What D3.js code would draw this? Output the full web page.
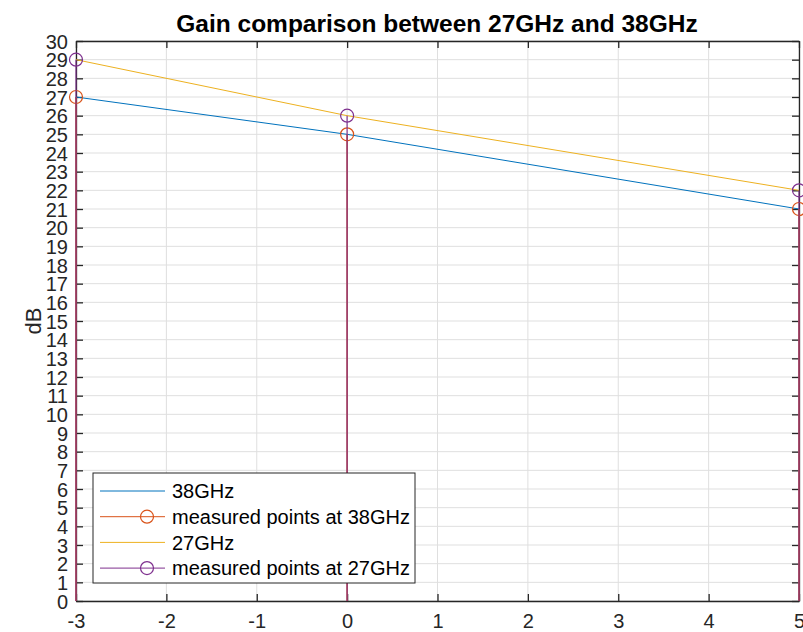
<!DOCTYPE html>
<html><head><meta charset="utf-8">
<script src="https://cdn.jsdelivr.net/npm/d3@7"></script>
<style>body{margin:0;background:#fff}svg{display:block}text{font-family:Arial,"Liberation Sans",Helvetica,sans-serif}</style>
</head><body><svg id="c" width="803" height="632"></svg>
<script>
const xPoints = [-3, 0, 5];
const gain38 = [27, 25, 21];
const gain27 = [29, 26, 22];
const xTicks = [-3, -2, -1, 0, 1, 2, 3, 4, 5];
const yTicks = d3.range(0, 31);
const seriesNames = ["38GHz", "measured points at 38GHz", "27GHz", "measured points at 27GHz"];
const title = "Gain comparison between 27GHz and 38GHz";

const svg = d3.select("#c");
const L = 76, R = 799, T = 41, B = 601;
const x = d3.scaleLinear().domain([-3, 5]).range([L, R]);
const y = d3.scaleLinear().domain([0, 30]).range([B, T]);
const axisCol = "#262626";
const blue = "#0072BD", red = "#D95319", yellow = "#EDB120", purple = "#7E2F8E";

// grid
const g = svg.append("g");
g.selectAll(".gx").data(xTicks).enter().append("line")
  .attr("x1", d => x(d)).attr("x2", d => x(d)).attr("y1", T).attr("y2", B)
  .attr("stroke", "#dfdfdf").attr("stroke-width", 1);
g.selectAll(".gy").data(yTicks).enter().append("line")
  .attr("y1", d => y(d)).attr("y2", d => y(d)).attr("x1", L).attr("x2", R)
  .attr("stroke", "#dfdfdf").attr("stroke-width", 1);

// axes
const tickLen = 7;
const fmt = d => String(d);
const ax = svg.append("g").attr("transform", `translate(0,${B})`)
  .call(d3.axisBottom(x).tickValues(xTicks).tickFormat(fmt).tickSizeInner(-tickLen).tickSizeOuter(0));
const axTop = svg.append("g").attr("transform", `translate(0,${T})`)
  .call(d3.axisTop(x).tickValues(xTicks).tickFormat("").tickSizeInner(-tickLen).tickSizeOuter(0));
const ay = svg.append("g").attr("transform", `translate(${L},0)`)
  .call(d3.axisLeft(y).tickValues(yTicks).tickFormat(fmt).tickSizeInner(-tickLen).tickSizeOuter(0));
const ayR = svg.append("g").attr("transform", `translate(${R},0)`)
  .call(d3.axisRight(y).tickValues(yTicks).tickFormat("").tickSizeInner(-tickLen).tickSizeOuter(0));
[ax, axTop, ay, ayR].forEach(a => {
  a.select(".domain").attr("stroke", axisCol).attr("stroke-width", 1.3);
  a.selectAll(".tick line").attr("stroke", axisCol).attr("stroke-width", 1.3);
  a.selectAll("text").attr("fill", axisCol).attr("font-size", 20).attr("font-family", "Arial, 'Liberation Sans', sans-serif");
});
ay.selectAll("text").attr("dy", "0.36em").attr("x", -8);
ax.selectAll("text").attr("y", 13).attr("dy", "0.71em");

// lines
const line = d3.line().x(d => x(d[0])).y(d => y(d[1]));
const d38 = xPoints.map((v, i) => [v, gain38[i]]);
const d27 = xPoints.map((v, i) => [v, gain27[i]]);
svg.append("path").datum(d38).attr("d", line).attr("fill", "none").attr("stroke", blue).attr("stroke-width", 1);
svg.append("path").datum(d27).attr("d", line).attr("fill", "none").attr("stroke", yellow).attr("stroke-width", 1);

// stems
function stems(data, col, op) {
  svg.append("g").selectAll("line").data(data).enter().append("line")
    .attr("x1", d => x(d[0])).attr("x2", d => x(d[0]))
    .attr("y1", d => y(d[1])).attr("y2", y(0))
    .attr("stroke", col).attr("stroke-width", 1.5).attr("stroke-opacity", op);
  svg.append("g").selectAll("circle").data(data).enter().append("circle")
    .attr("cx", d => x(d[0])).attr("cy", d => y(d[1])).attr("r", 6.5)
    .attr("fill", "none").attr("stroke", col).attr("stroke-width", 1.2);
}
stems(d38, red, 1);
stems(d27, purple, 0.75);

// title
svg.append("text").attr("x", 437).attr("y", 32).attr("text-anchor", "middle")
  .attr("font-size", 24.5).attr("font-weight", "bold").attr("fill", "#000").text(title);
// y label
svg.append("text").attr("transform", `translate(41,${(T + B) / 2}) rotate(-90)`).attr("text-anchor", "middle")
  .attr("font-size", 22).attr("fill", axisCol).text("dB");

// legend
const lx = 93, ly = 473, lw = 322, lh = 110;
const leg = svg.append("g");
leg.append("rect").attr("x", lx).attr("y", ly).attr("width", lw).attr("height", lh)
  .attr("fill", "#fff").attr("stroke", axisCol).attr("stroke-width", 1);
const legCols = [blue, red, yellow, purple];
const legMarker = [false, true, false, true];
seriesNames.forEach((name, i) => {
  const yy = ly + 18 + i * 25.7;
  leg.append("line").attr("x1", lx + 7).attr("x2", lx + 72).attr("y1", yy).attr("y2", yy)
    .attr("stroke", legCols[i]).attr("stroke-width", 1);
  if (legMarker[i]) leg.append("circle").attr("cx", lx + 54).attr("cy", yy).attr("r", 6.5)
    .attr("fill", "none").attr("stroke", legCols[i]).attr("stroke-width", 1.2);
  leg.append("text").attr("x", lx + 79).attr("y", yy).attr("dy", "0.36em")
    .attr("font-size", 20).attr("fill", "#000").text(name);
});
</script></body></html>
